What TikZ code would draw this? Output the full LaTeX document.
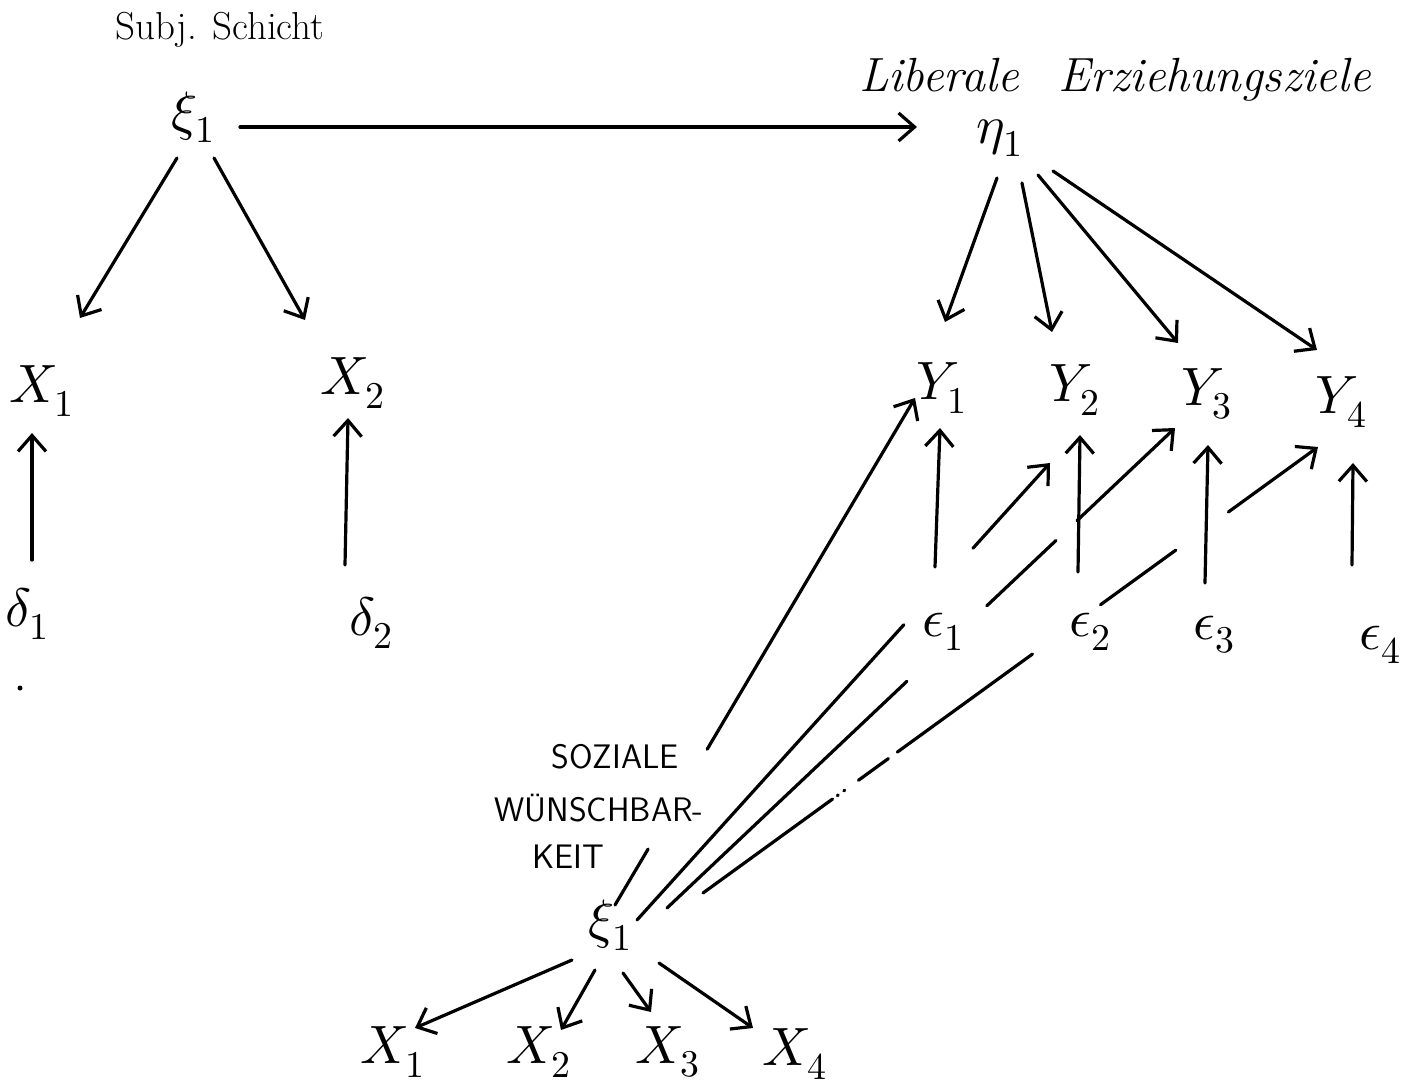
\documentclass[tikz,border=0pt]{standalone}
\usepackage{unicode-math}
\setmathfont{Latin Modern Math}
\usetikzlibrary{arrows.meta}
\begin{document}
\begin{tikzpicture}[x=1pt,y=-1pt,
  sym/.style={inner sep=0pt, font=\fontsize{54}{60}\selectfont},
  txt/.style={inner sep=0pt, font=\fontsize{39}{44}\selectfont},
  txtb/.style={inner sep=0pt, font=\itshape\fontsize{48}{56}\selectfont},
  soc/.style={inner sep=0pt, font=\sffamily\fontsize{34}{40}\selectfont},
  ln/.style={line width=3.2pt, line cap=round, line join=round},
  arr/.style={ln, -{Straight Barb[length=16pt,width=28pt]}}]
\useasboundingbox (0,0) rectangle (1417,1089);

% left block
\node[txt] (lab1) at (220,30) {Subj. Schicht};
\node[sym] (xiA) at (193,117) {$\xi_1$};
\node[sym] (X1) at (42,391) {$X_1$};
\node[sym] (X2) at (353,383) {$X_2$};
\node[sym] (d1) at (27,614) {$\delta_1$};
\node[sym] (d2) at (371,623) {$\delta_2$};

% right block
\node[txtb] (lab2) at (1115,80) {Liberale\hspace{40pt}Erziehungsziele};
\node[sym] (eta) at (1000,138) {$\eta_1$};
\node[sym] (Y1) at (942,388) {$Y_1$};
\node[sym] (Y2) at (1075,390) {$Y_2$};
\node[sym] (Y3) at (1207,394) {$Y_3$};
\node[sym] (Y4) at (1341,402) {$Y_4$};
\node[sym] (e1) at (943,632) {$\epsilon_1$};
\node[sym] (e2) at (1090,632) {$\epsilon_2$};
\node[sym] (e3) at (1214,635) {$\epsilon_3$};
\node[sym] (e4) at (1380,645) {$\epsilon_4$};

% bottom block
\node[soc] (soc1) at (615,757) {SOZIALE};
\node[soc] (soc2) at (599,808) {WÜNSCHBAR-};
\node[soc] (soc3) at (568,857) {KEIT};
\node[sym] (xiB) at (610,925) {$\xi_1$};
\node[sym] (Xb1) at (393,1052) {$X_1$};
\node[sym] (Xb2) at (539,1052) {$X_2$};
\node[sym] (Xb3) at (668,1052) {$X_3$};
\node[sym] (Xb4) at (795,1054) {$X_4$};

% stray dot of the scan
\fill (20,688) circle (2.5pt);

% connectors, left
\draw[arr] ([shift={(47,10)}]xiA.center) -- ([shift={(-83,-11)}]eta.center);
\draw[arr] ([shift={(-16,41)}]xiA.center) -- ([shift={(38,-73)}]X1.center);
\draw[arr] ([shift={(21,41)}]xiA.center) -- ([shift={(-48,-63)}]X2.center);
\draw[arr] ([shift={(5,-54)}]d1.center) -- ([shift={(-10,42)}]X1.center);
\draw[arr] ([shift={(-26,-58)}]d2.center) -- ([shift={(-5,35)}]X2.center);

% eta to Y
\draw[arr] ([shift={(-3,40)}]eta.center) -- ([shift={(3,-66)}]Y1.center);
\draw[arr] ([shift={(22,45)}]eta.center) -- ([shift={(-23,-58)}]Y2.center);
\draw[arr] ([shift={(38,37)}]eta.center) -- ([shift={(-29,-51)}]Y3.center);
\draw[arr] ([shift={(53,33)}]eta.center) -- ([shift={(-24,-52)}]Y4.center);

% epsilon to Y
\draw[arr] ([shift={(-8,-65)}]e1.center) -- ([shift={(-2,40)}]Y1.center);
\draw[arr] ([shift={(-12,-60)}]e2.center) -- ([shift={(5,45)}]Y2.center);
\draw[arr] ([shift={(-9,-52)}]e3.center) -- ([shift={(1,51)}]Y3.center);
\draw[arr] ([shift={(-28,-80)}]e4.center) -- ([shift={(12,61)}]Y4.center);

% social desirability to Y (broken where they pass labels and lines)
\draw[arr, dash pattern=on 65pt off 116pt on 700pt]
  ([shift={(5,-20)}]xiB.center) -- ([shift={(-27,10)}]Y1.center);
\draw[arr, dash pattern=on 398pt off 103pt on 400pt]
  ([shift={(27,-5)}]xiB.center) -- ([shift={(-25,73)}]Y2.center);
\draw[arr, dash pattern=on 330pt off 110pt on 95pt off 29pt on 400pt]
  ([shift={(57,-17)}]xiB.center) -- ([shift={(-32,34)}]Y3.center);
\draw[arr, dash pattern=on 160pt off 6pt on 1pt off 7pt on 1pt off 17pt on 37pt off 11pt on 167pt off 84pt on 93pt off 65pt on 400pt]
  ([shift={(93,-32)}]xiB.center) -- ([shift={(-23,45)}]Y4.center);

% social desirability to its indicators
\draw[arr] ([shift={(-38,35)}]xiB.center) -- ([shift={(22,-24)}]Xb1.center);
\draw[arr] ([shift={(-15,45)}]xiB.center) -- ([shift={(22,-22)}]Xb2.center);
\draw[arr] ([shift={(13,48)}]xiB.center) -- ([shift={(-17,-40)}]Xb3.center);
\draw[arr] ([shift={(49,38)}]xiB.center) -- ([shift={(-42,-26)}]Xb4.center);
\end{tikzpicture}
\end{document}
